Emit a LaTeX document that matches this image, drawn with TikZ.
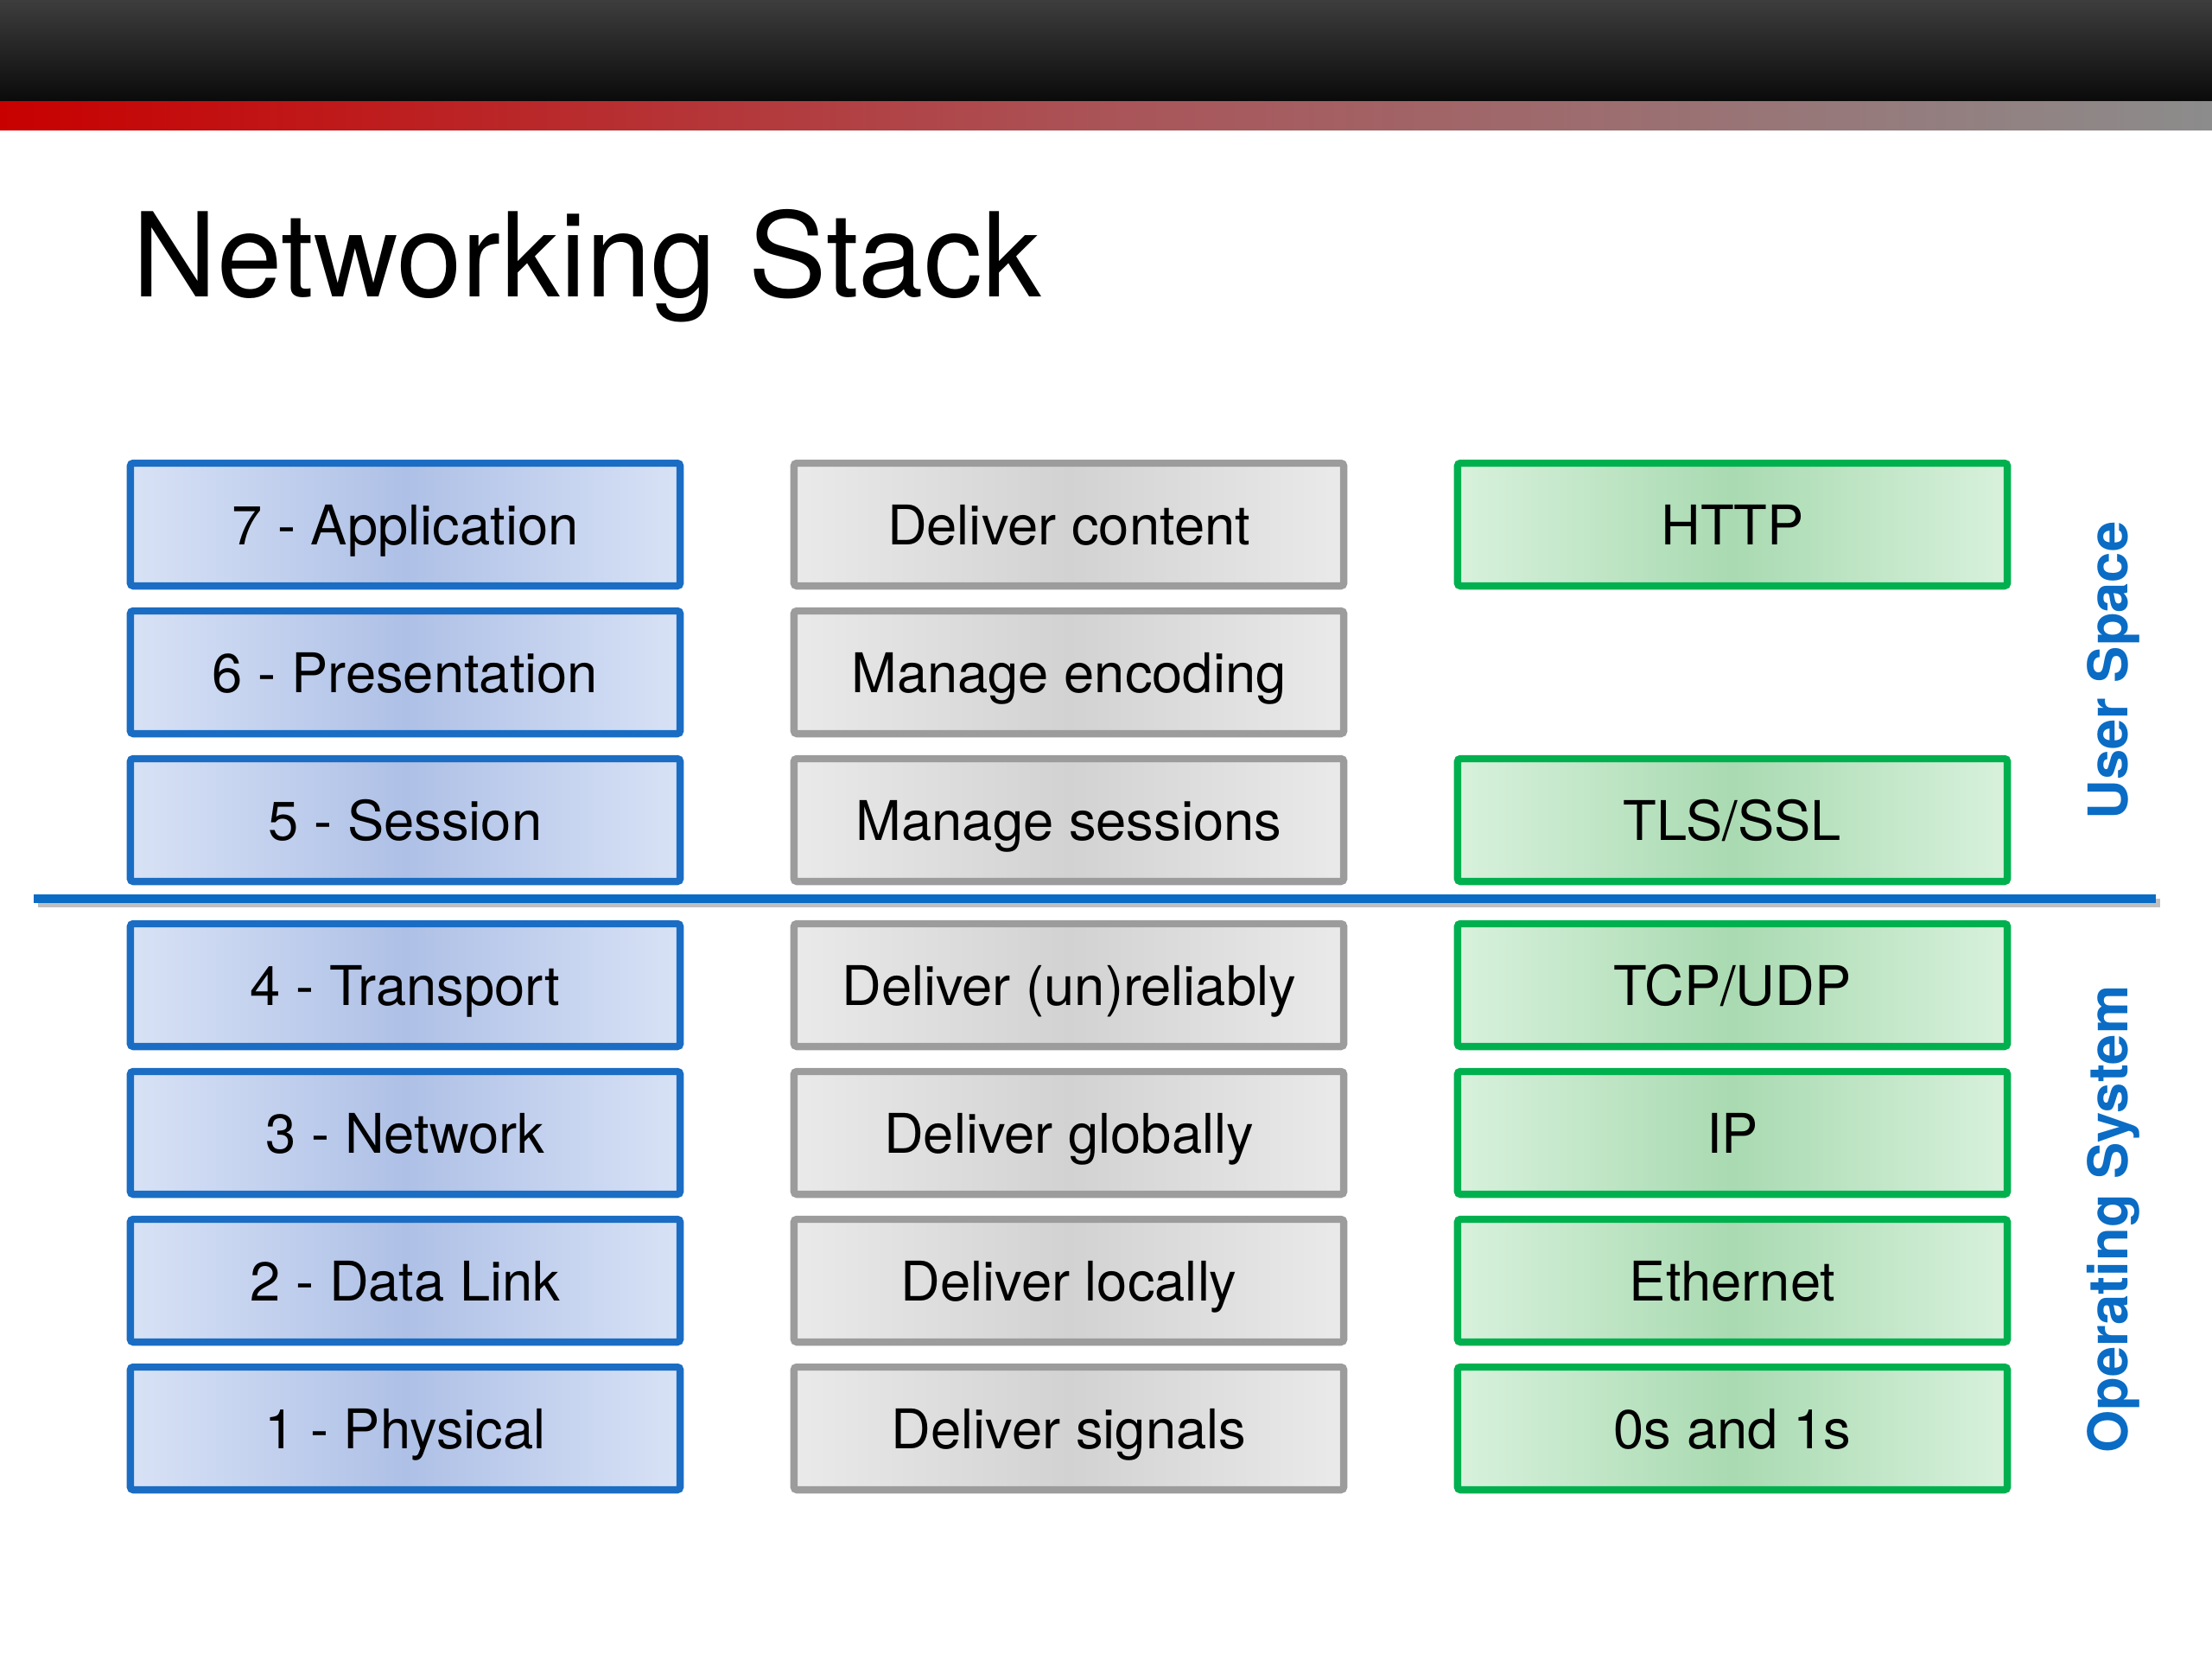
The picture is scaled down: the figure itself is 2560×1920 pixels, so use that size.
\documentclass[tikz,border=0pt]{standalone}
\usepackage{fontspec}
\setmainfont{TeX Gyre Heros}
\usetikzlibrary{positioning}
\definecolor{layerblue}{HTML}{1A6DC3}
\definecolor{layerbluelt}{HTML}{D8E2F6}
\definecolor{layerbluedk}{HTML}{AEC0E6}
\definecolor{rolegray}{HTML}{9C9C9C}
\definecolor{rolegraylt}{HTML}{EAEAEA}
\definecolor{rolegraydk}{HTML}{D2D2D2}
\definecolor{protogreen}{HTML}{00B04E}
\definecolor{protogreenlt}{HTML}{D8F1DC}
\definecolor{protogreendk}{HTML}{A9DAB1}
\definecolor{spaceblue}{HTML}{0A6CC4}
\definecolor{barred}{HTML}{C80000}
\definecolor{barmid}{HTML}{AA5458}
\definecolor{bargray}{HTML}{8C8C8C}
\begin{document}
\begin{tikzpicture}[
  x=0.01cm, y=-0.01cm,
  stackbox/.style={line width=2.4pt, rounded corners=1pt,
    minimum width=6.36cm, minimum height=1.42cm,
    text height=0.46cm, text depth=0pt,
    font=\fontsize{18}{22}\selectfont, inner sep=0pt},
  layerbox/.style={stackbox, draw=layerblue,
    left color=layerbluelt, right color=layerbluelt, middle color=layerbluedk},
  rolebox/.style={stackbox, draw=rolegray,
    left color=rolegraylt, right color=rolegraylt, middle color=rolegraydk},
  protobox/.style={stackbox, draw=protogreen,
    left color=protogreenlt, right color=protogreenlt, middle color=protogreendk},
  spacelabel/.style={rotate=90, text=spaceblue,
    font=\fontsize{18}{22}\selectfont\bfseries},
  kernelline/.style={line width=2.9pt, spaceblue},
]
\useasboundingbox (0,0) rectangle (2560,1920);

% Slide header
\fill[top color=black!76, bottom color=black!96] (0,0) rectangle (2560,117);
\fill[left color=barred, right color=bargray, middle color=barmid] (0,117) rectangle (2560,150);
\node[anchor=base west, font=\fontsize{38.5}{46}\selectfont, inner sep=0pt] (title) at (153,343) {Networking Stack};

% OSI layers
\node[layerbox] (app)   at (469,607)  {7 - Application};
\node[layerbox] (pres)  at (469,778)  {6 - Presentation};
\node[layerbox] (sess)  at (469,949)  {5 - Session};
\node[layerbox] (trans) at (469,1140) {4 - Transport};
\node[layerbox] (netw)  at (469,1311) {3 - Network};
\node[layerbox] (link)  at (469,1482) {2 - Data Link};
\node[layerbox] (phys)  at (469,1653) {1 - Physical};

% What each layer does
\node[rolebox] (roleapp)   at (1237,607)  {Deliver content};
\node[rolebox] (rolepres)  at (1237,778)  {Manage encoding};
\node[rolebox] (rolesess)  at (1237,949)  {Manage sessions};
\node[rolebox] (roletrans) at (1237,1140) {Deliver (un)reliably};
\node[rolebox] (rolenetw)  at (1237,1311) {Deliver globally};
\node[rolebox] (rolelink)  at (1237,1482) {Deliver locally};
\node[rolebox] (rolephys)  at (1237,1653) {Deliver signals};

% Protocols (none shown for layer 6)
\node[protobox] (http)  at (2005,607)  {HTTP};
\node[protobox] (tls)   at (2005,949)  {TLS/SSL};
\node[protobox] (tcp)   at (2005,1140) {TCP/UDP};
\node[protobox] (ip)    at (2005,1311) {IP};
\node[protobox] (ether) at (2005,1482) {Ethernet};
\node[protobox] (bits)  at (2005,1653) {0s and 1s};

% User space / kernel boundary
\coordinate (lineL) at (39,1040);
\coordinate (lineR) at (2495,1040);
\draw[line width=2.9pt, black!25, transform canvas={xshift=1.5pt, yshift=-1.5pt}] (lineL) -- (lineR);
\draw[kernelline] (lineL) -- (lineR);
\node[spacelabel] (user) at (2446,776)  {User Space};
\node[spacelabel] (os)   at (2446,1411) {Operating System};
\end{tikzpicture}
\end{document}
